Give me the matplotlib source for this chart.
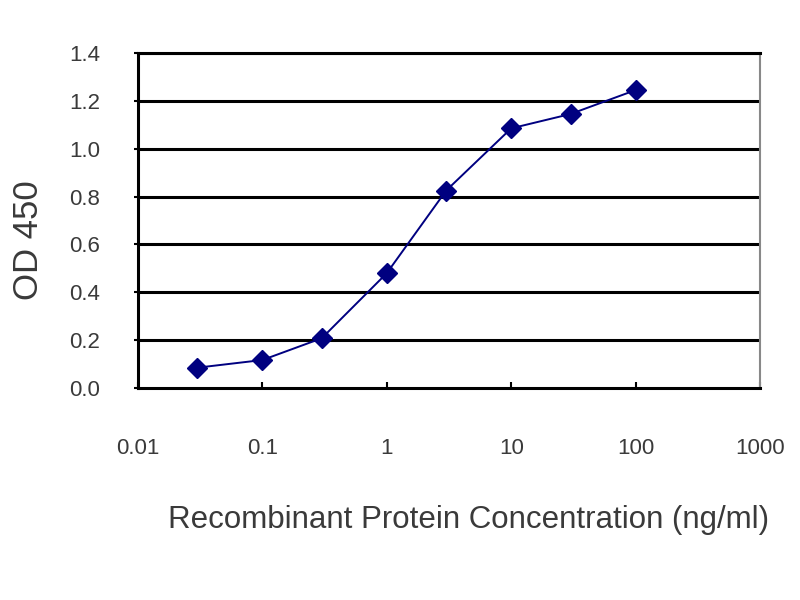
import matplotlib.pyplot as plt
from matplotlib.ticker import FixedLocator, NullLocator

# Data
conc = [0.03, 0.1, 0.3, 1, 3, 10, 30, 100]
od450 = [0.085, 0.117, 0.208, 0.48, 0.825, 1.085, 1.145, 1.245]
x_ticks = [0.01, 0.1, 1, 10, 100, 1000]
x_tick_labels = ['0.01', '0.1', '1', '10', '100', '1000']
y_ticks = [0.0, 0.2, 0.4, 0.6, 0.8, 1.0, 1.2, 1.4]

plt.rcParams['font.family'] = ['Liberation Sans', 'DejaVu Sans']
text_col = '#3a3a3a'

fig = plt.figure(figsize=(8, 6), dpi=100)
ax = fig.add_axes([0.1725, 0.3533, 0.7775, 0.5584])

# horizontal grid lines
for yv in y_ticks[1:]:
    ax.axhline(yv, color='black', linewidth=2.2, zorder=1)

ax.plot(conc, od450, color='#000080', linewidth=1.4, marker='D',
        markersize=10, markerfacecolor='#000080', markeredgecolor='#000080', zorder=3)

ax.set_xscale('log')
ax.set_xlim(0.01, 1000)
ax.set_ylim(0, 1.4)
ax.xaxis.set_major_locator(FixedLocator(x_ticks))
ax.xaxis.set_minor_locator(NullLocator())
ax.set_xticklabels(x_tick_labels)
ax.set_yticks(y_ticks)
ax.set_yticklabels([f'{v:.1f}' for v in y_ticks])

ax.tick_params(axis='x', direction='in', length=4, width=1.5, pad=36,
               labelsize=16, labelcolor=text_col)
ax.tick_params(axis='y', direction='out', length=3, width=1.5, pad=24,
               labelsize=16, labelcolor=text_col)

for s in ['left', 'bottom', 'top']:
    ax.spines[s].set_color('black')
    ax.spines[s].set_linewidth(2.2)
ax.spines['right'].set_color('#888888')
ax.spines['right'].set_linewidth(1.5)

fig.text(0.036, 0.6, 'OD 450', rotation=90, ha='center', va='center',
         fontsize=25, color=text_col)
fig.text(0.21, 0.133, 'Recombinant Protein Concentration (ng/ml)', ha='left',
         va='center', fontsize=22.5, color=text_col)

fig.savefig('out.png', dpi=100)
